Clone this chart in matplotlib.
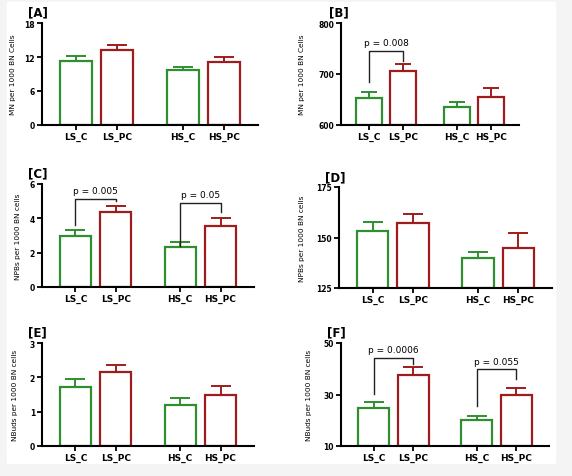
import matplotlib
matplotlib.use('Agg')
import matplotlib.pyplot as plt

# groups and values
groups = ['LS_C', 'LS_PC', 'HS_C', 'HS_PC']
xpos = [0, 1, 2.6, 3.6]

mn_mean = [11.3, 13.3, 9.7, 11.1]
mn_sem = [0.8, 0.8, 0.55, 0.85]
mn2_mean = [653, 705, 635, 655]
mn2_sem = [12, 14, 10, 18]
npb_mean = [2.98, 4.35, 2.34, 3.57]
npb_sem = [0.33, 0.39, 0.26, 0.43]
npb2_mean = [153.4, 157.1, 139.7, 144.7]
npb2_sem = [4.5, 4.3, 3.0, 7.5]
nbud_mean = [1.73, 2.15, 1.19, 1.49]
nbud_sem = [0.22, 0.22, 0.20, 0.27]
nbud2_mean = [24.7, 37.6, 20.0, 29.8]
nbud2_sem = [2.5, 2.9, 1.7, 2.8]

green = '#2f8f2f'
red = '#a01c1c'
colors = [green, red, green, red]

W, H = 572, 477
fig = plt.figure(figsize=(W / 100, H / 100), dpi=100)
fig.patch.set_facecolor('#f4f4f4')
# white sheet behind the panels
sheet = plt.Rectangle((7 / W, 1 - 464 / H), 548 / W, 461 / H,
                      transform=fig.transFigure, color='white', zorder=-10)
fig.add_artist(sheet)


def px_axes(x0, x1, y0, y1):
    # pixel box (top-left origin) -> axes
    return fig.add_axes([x0 / W, 1 - y1 / H, (x1 - x0) / W, (y1 - y0) / H])


def panel(box, title, means, sems, ylim, yticks, ylabel, capsize, brackets=(), ylab_x=-0.13):
    ax = px_axes(*box)
    ax.set_facecolor('none')
    base = ylim[0]
    heights = [m - base for m in means]
    ax.bar(xpos, heights, bottom=base, width=0.78, facecolor='white',
           edgecolor=colors, linewidth=1.6, zorder=2)
    for x, m, s, c in zip(xpos, means, sems, colors):
        ax.errorbar(x, m, yerr=[[0], [s]], color=c, capsize=capsize,
                    capthick=1.4, elinewidth=1.4, zorder=1)
    ax.set_xlim(-0.83, 4.43)
    ax.set_ylim(*ylim)
    ax.set_yticks(yticks)
    ax.set_yticklabels([str(t) for t in yticks], fontsize=5.5, fontweight='bold')
    ax.set_xticks(xpos)
    ax.set_xticklabels(groups, fontsize=6.5, fontweight='bold')
    ax.tick_params(axis='both', length=3.5, width=1.3, pad=1.5)
    for s in ['top', 'right']:
        ax.spines[s].set_visible(False)
    for s in ['left', 'bottom']:
        ax.spines[s].set_linewidth(1.5)
    ax.set_ylabel(ylabel, fontsize=5.3)
    ax.yaxis.set_label_coords(ylab_x, 0.5)
    ax.text(-0.065, 1.04, title, transform=ax.transAxes, fontsize=8.5,
            fontweight='bold', ha='left', va='bottom')
    for i, j, yl, ytop, yr, txt in brackets:
        ax.plot([xpos[i], xpos[i], xpos[j], xpos[j]], [yl, ytop, ytop, yr],
                color='#222222', linewidth=1.0, clip_on=False)
        ax.text((xpos[i] + xpos[j]) / 2, ytop + (ylim[1] - ylim[0]) * 0.035, txt,
                ha='center', va='bottom', fontsize=6.5, clip_on=False)
    return ax


panel((42, 258, 24, 126), '[A]', mn_mean, mn_sem, (0, 18), [0, 6, 12, 18],
      'MN per 1000 BN Cells', 7, ylab_x=-0.12)
panel((341, 519, 24, 126), '[B]', mn2_mean, mn2_sem, (600, 800), [600, 700, 800],
      'MN per 1000 BN Cells', 5.5,
      brackets=[(0, 1, 684, 746, 726, 'p = 0.008')], ylab_x=-0.2)
panel((42, 254, 185, 288), '[C]', npb_mean, npb_sem, (0, 6), [0, 2, 4, 6],
      'NPBs per 1000 BN cells', 7,
      brackets=[(0, 1, 3.63, 5.13, 4.99, 'p = 0.005'),
                (2, 3, 2.4, 4.9, 4.39, 'p = 0.05')], ylab_x=-0.1)
panel((339, 552, 188, 289), '[D]', npb2_mean, npb2_sem, (125, 175), [125, 150, 175],
      'NPBs per 1000 BN cells', 7, ylab_x=-0.16)
panel((42, 254, 344, 447), '[E]', nbud_mean, nbud_sem, (0, 3), [0, 1, 2, 3],
      'NBuds per 1000 BN cells', 7, ylab_x=-0.115)
panel((341, 549, 344, 447), '[F]', nbud2_mean, nbud2_sem, (10, 50), [10, 30, 50],
      'NBuds per 1000 BN cells', 7,
      brackets=[(0, 1, 30.2, 44.2, 41.7, 'p = 0.0006'),
                (2, 3, 25.4, 39.8, 36.1, 'p = 0.055')], ylab_x=-0.14)

plt.savefig('out.png', dpi=100, facecolor=fig.get_facecolor())
